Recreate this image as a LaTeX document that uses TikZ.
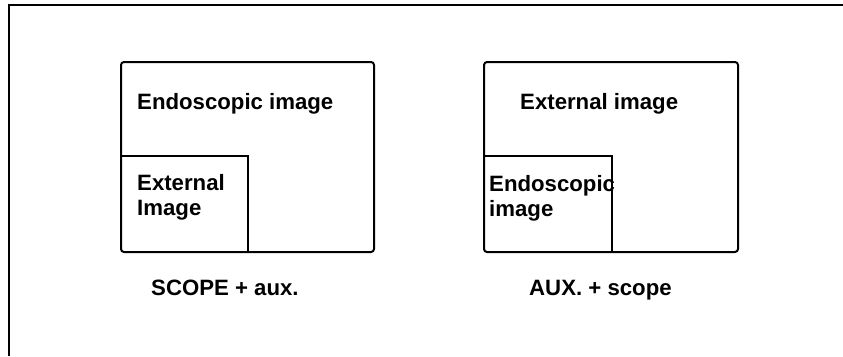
\documentclass[tikz,border=0pt]{standalone}
\usepackage{fontspec}
\setmainfont{Liberation Sans}
\begin{document}
\begin{tikzpicture}[x=1pt,y=-1pt,
  lbl/.style={inner sep=0pt, anchor=base west, font=\bfseries\fontsize{22.2}{25}\selectfont, align=left},
  panel/.style={draw, line width=2pt, rounded corners=3pt, minimum width=253pt, minimum height=190pt, anchor=north west, inner sep=0pt},
  frame/.style={line width=2pt}]
\useasboundingbox (0,0) rectangle (843,356);
\coordinate (ftop) at (843,5);
\coordinate (fcorner) at (9,5);
\coordinate (fbot) at (9,356);
\draw[frame] (ftop) -- (fcorner) -- (fbot);
% left panel
\node[panel] (L) at (120,61) {};
\coordinate (Li) at (248,156);
\draw[line width=2pt] (L.west |- Li) -- (Li) -- (Li |- L.south);
\node[lbl] (Ltop) at (137,109) {Endoscopic image};
\node[lbl] (Lin) at (137,215) {External\\Image};
\node[lbl] (Lcap) at (151,295) {SCOPE + aux.};
% right panel
\node[panel, minimum width=254pt] (R) at (483,61) {};
\coordinate (Ri) at (612,156);
\draw[line width=2pt] (R.west |- Ri) -- (Ri) -- (Ri |- R.south);
\node[lbl] (Rtop) at (520,109) {External image};
\node[lbl] (Rin) at (489,216) {Endoscopic\\image};
\node[lbl] (Rcap) at (529,295) {AUX. + scope};
\end{tikzpicture}
\end{document}
